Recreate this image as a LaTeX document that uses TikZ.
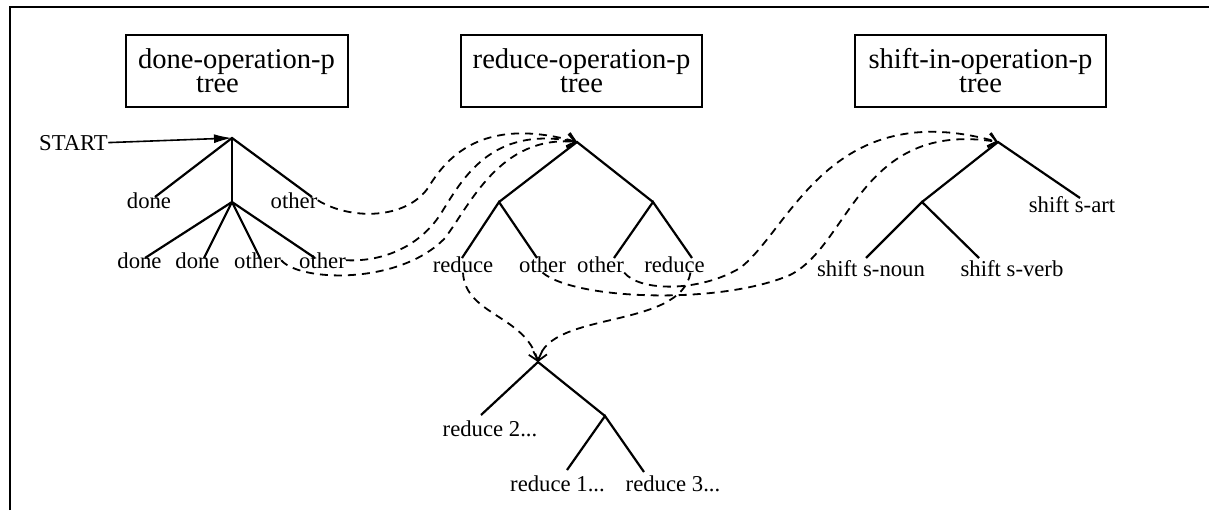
\documentclass[tikz,border=0pt]{standalone}
\usepackage{fontspec}
\setmainfont{Liberation Serif}
\usetikzlibrary{arrows.meta}

\begin{document}
\begin{tikzpicture}[x=0.5pt, y=-0.5pt,
    lbl/.style={inner sep=0pt, anchor=base, font=\fontsize{11.35}{13}\selectfont},
    boxed/.style={draw, line width=1pt, inner sep=0pt, align=center, minimum height=36pt, font=\fontsize{14.3}{12}\selectfont},
    branch/.style={line width=1.1pt},
    link/.style={dash pattern=on 4pt off 3pt, line width=0.9pt, -{Straight Barb[length=4pt,width=7pt]}}]
    \useasboundingbox (0,0) rectangle (1209,510);
    \draw [line width=1.2pt] (10,510)--(10,7)--(1209,7);

    \node [boxed, minimum width=111pt] (dBox) at (236.5,71) {done-operation-p\\\hspace*{-19pt}tree};
    \node [boxed, minimum width=120.5pt] (rBox) at (581.5,71) {reduce-operation-p\\tree};
    \node [boxed, minimum width=125.5pt] (sBox) at (980.5,71) {shift-in-operation-p\\tree};

    % done tree
    \coordinate (dRoot) at (232,138);
    \coordinate (dMid) at (232,202);
    \coordinate (dDoneT) at (155,197);
    \coordinate (dOtherT) at (312,197);
    \coordinate (dDoneAT) at (145,258);
    \coordinate (dDoneBT) at (204,258);
    \coordinate (dOtherAT) at (260,258);
    \coordinate (dOtherBT) at (315,258);
    \node [lbl] (start) at (73.5,150) {START};
    \node [lbl] (dDone) at (149,208) {done};
    \node [lbl] (dOther) at (294,208) {other};
    \node [lbl] (dDoneA) at (139.5,268) {done};
    \node [lbl] (dDoneB) at (197.5,268) {done};
    \node [lbl] (dOtherA) at (257.5,268) {other};
    \node [lbl] (dOtherB) at (322.5,268) {other};
    \draw [line width=0.8pt, -{Latex[length=9pt,width=4.5pt]}] (start.east)--(dRoot);
    \draw [branch] (dDoneT)--(dRoot)--(dOtherT);
    \draw [branch] (dRoot)--(dMid);
    \draw [branch] (dMid)--(dDoneAT);
    \draw [branch] (dMid)--(dDoneBT);
    \draw [branch] (dMid)--(dOtherAT);
    \draw [branch] (dMid)--(dOtherBT);

    % reduce tree
    \coordinate (rRoot) at (577,142);
    \coordinate (rL) at (499,202);
    \coordinate (rR) at (653,202);
    \coordinate (rReduceAT) at (462,258);
    \coordinate (rOtherAT) at (537,258);
    \coordinate (rOtherBT) at (614,258);
    \coordinate (rReduceBT) at (692,258);
    \node [lbl] (rReduceA) at (463,272) {reduce};
    \node [lbl] (rOtherA) at (542.5,272) {other};
    \node [lbl] (rOtherB) at (600.5,272) {other};
    \node [lbl] (rReduceB) at (674.5,272) {reduce};
    \draw [branch] (rL)--(rRoot)--(rR);
    \draw [branch] (rReduceAT)--(rL)--(rOtherAT);
    \draw [branch] (rOtherBT)--(rR)--(rReduceBT);

    % shift tree
    \coordinate (sRoot) at (998,142);
    \coordinate (sL) at (922,202);
    \coordinate (sArtT) at (1080,198);
    \coordinate (sNounT) at (866,258);
    \coordinate (sVerbT) at (979,258);
    \node [lbl] (sArt) at (1072,212) {shift s-art};
    \node [lbl] (sNoun) at (871,276) {shift s-noun};
    \node [lbl] (sVerb) at (1012,276) {shift s-verb};
    \draw [branch] (sL)--(sRoot)--(sArtT);
    \draw [branch] (sNounT)--(sL)--(sVerbT);

    % reduce sub tree
    \coordinate (uRoot) at (538,362);
    \coordinate (uR) at (605,416);
    \coordinate (uTwoT) at (481,415);
    \coordinate (uOneT) at (567,470);
    \coordinate (uThreeT) at (644,472);
    \node [lbl] (uTwo) at (490,436) {reduce 2...};
    \node [lbl] (uOne) at (557.5,491) {reduce 1...};
    \node [lbl] (uThree) at (673,491) {reduce 3...};
    \draw [branch] (uTwoT)--(uRoot)--(uR);
    \draw [branch] (uOneT)--(uR)--(uThreeT);

    % links
    \draw [link] (dOther.east) .. controls (350,220) and (405,220) .. (428,188)
        .. controls (445,160) and (480,115) .. (rRoot);
    \draw [link] (dOtherB.east) .. controls (385,262) and (420,245) .. (440,215)
        .. controls (462,180) and (490,125) .. (rRoot);
    \draw [link] (dOtherA.east) .. controls (300,282) and (400,285) .. (445,238)
        .. controls (470,205) and (500,135) .. (rRoot);
    \draw [link] (rOtherB.south east) .. controls (640,292) and (700,292) .. (740,268)
        .. controls (790,230) and (830,95) .. (sRoot);
    \draw [link] (rOtherA.south) .. controls (575,300) and (720,305) .. (790,275)
        .. controls (850,245) and (860,120) .. (sRoot);
    \draw [link] ([xshift=8pt]rReduceB.south) .. controls (680,330) and (550,310) .. (uRoot);
    \draw [link] (rReduceA.south) .. controls (465,315) and (525,315) .. (uRoot);
  \end{tikzpicture}
\end{document}
